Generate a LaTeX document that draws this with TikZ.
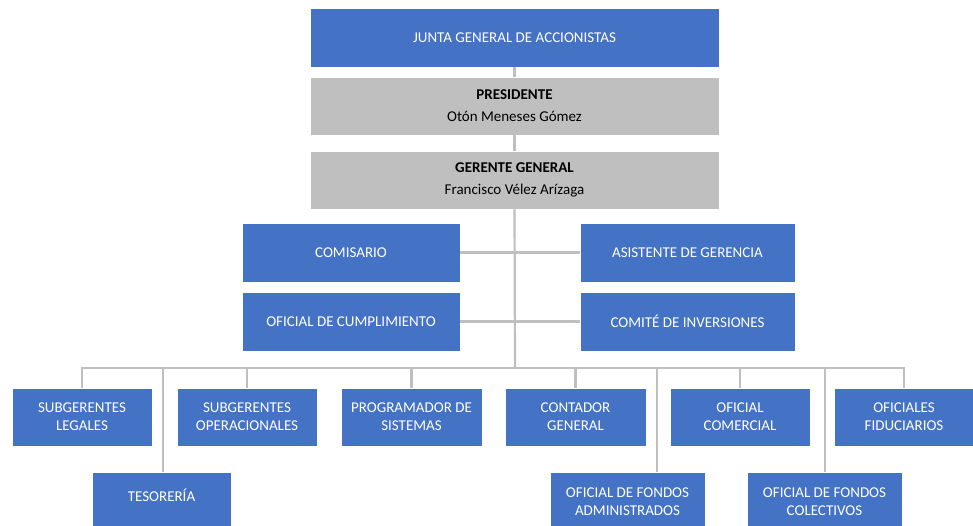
\documentclass[tikz,border=0pt]{standalone}
\usepackage{fontspec}
\setmainfont{Carlito}
\definecolor{boxblue}{HTML}{4472C4}
\definecolor{boxgray}{HTML}{BFBFBF}
\definecolor{linegray}{HTML}{BFBFBF}
\begin{document}
\begin{tikzpicture}[x=1pt,y=-1pt,
  bluebox/.style={fill=boxblue, draw=white, line width=0.6pt, text=white, align=center, inner sep=0pt,
    font=\fontsize{15}{18}\selectfont},
  graybox/.style={fill=boxgray, draw=white, line width=0.6pt, text=black, align=center, inner sep=0pt,
    font=\fontsize{15}{22}\selectfont},
  conn/.style={draw=linegray, line width=2.2pt}]
\useasboundingbox (0,0) rectangle (973,526);
\clip (0,0) rectangle (973,526);
% top chain
\node[bluebox, minimum width=409pt, minimum height=59pt] (junta) at (514.5,37.5) {JUNTA GENERAL DE ACCIONISTAS};
\node[graybox, minimum width=409pt, minimum height=58pt] (pres) at (514.5,106) {\textbf{PRESIDENTE}\\Otón Meneses Gómez};
\node[graybox, minimum width=409pt, minimum height=58pt] (ger) at (514.5,180) {\textbf{GERENTE GENERAL}\\Francisco Vélez Arízaga};
% staff
\node[bluebox, minimum width=218pt, minimum height=59pt] (comis) at (351,252.5) {COMISARIO};
\node[bluebox, minimum width=215pt, minimum height=59pt] (asist) at (687.5,252.5) {ASISTENTE DE GERENCIA};
\node[bluebox, minimum width=218pt, minimum height=59pt] (ofcump) at (351,321.5) {OFICIAL DE CUMPLIMIENTO};
\node[bluebox, minimum width=215pt, minimum height=59pt] (comite) at (687.5,321.5) {COMITÉ DE INVERSIONES};
% row 1
\node[bluebox, minimum width=140pt, minimum height=58pt] (sl) at (82,417) {SUBGERENTES\\LEGALES};
\node[bluebox, minimum width=140pt, minimum height=58pt] (so) at (247,417) {SUBGERENTES\\OPERACIONALES};
\node[bluebox, minimum width=141pt, minimum height=58pt] (prog) at (411.5,417) {PROGRAMADOR DE\\SISTEMAS};
\node[bluebox, minimum width=141pt, minimum height=58pt] (cont) at (575.5,417) {CONTADOR\\GENERAL};
\node[bluebox, minimum width=140pt, minimum height=58pt] (ofcom) at (740,417) {OFICIAL\\COMERCIAL};
\node[bluebox, minimum width=139pt, minimum height=58pt] (ofid) at (904,417) {OFICIALES\\FIDUCIARIOS};
% row 2
\node[bluebox, minimum width=139pt, minimum height=60pt, text depth=14pt] (teso) at (161.5,502) {TESORERÍA};
\node[bluebox, minimum width=155pt, minimum height=60pt] (ofadm) at (627.5,502) {OFICIAL DE FONDOS\\ADMINISTRADOS};
\node[bluebox, minimum width=155pt, minimum height=60pt] (ofcol) at (824.5,502) {OFICIAL DE FONDOS\\COLECTIVOS};
% connectors
\coordinate (bus) at (515,368);
\coordinate (busL) at (82,368);
\coordinate (busR) at (904,368);
\draw[conn] (junta.south) -- (pres.north);
\draw[conn] (pres.south) -- (ger.north);
\draw[conn] (ger.south) -- (bus);
\draw[conn] (comis.east) -- (comis.east -| bus);
\draw[conn] (asist.west) -- (asist.west -| bus);
\draw[conn] (ofcump.east) -- (ofcump.east -| bus);
\draw[conn] (comite.west) -- (comite.west -| bus);
\draw[conn, line cap=rect] (busL) -- (busR);
\draw[conn] (busL) -- (sl.north);
\draw[conn] (so.north |- bus) -- (so.north);
\draw[conn] (prog.north |- bus) -- (prog.north);
\draw[conn] (cont.north |- bus) -- (cont.north);
\draw[conn] (ofcom.north |- bus) -- (ofcom.north);
\draw[conn] (busR) -- (ofid.north);
\draw[conn] (163,368) -- (163,472) coordinate (tesotop);
\draw[conn] (657,368) -- (657,472) coordinate (admtop);
\draw[conn] (825,368) -- (825,472) coordinate (coltop);
\end{tikzpicture}
\end{document}
